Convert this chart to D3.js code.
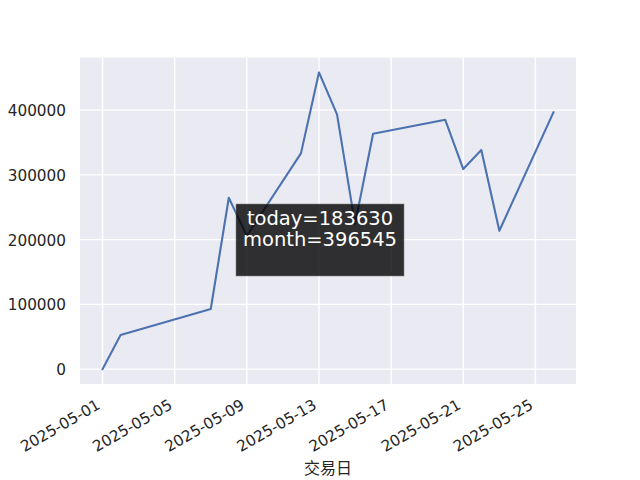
<!DOCTYPE html>
<html>
<head>
<meta charset="utf-8">
<script src="https://cdn.jsdelivr.net/npm/d3@7"></script>
<style>
  html, body { margin: 0; padding: 0; background: #ffffff; }
  svg { display: block; }
</style>
</head>
<body>
<svg id="chart" width="640" height="480"></svg>
<script>
// ---- data ----
const dates = ["2025-05-01","2025-05-02","2025-05-07","2025-05-08","2025-05-09","2025-05-12",
               "2025-05-13","2025-05-14","2025-05-15","2025-05-16","2025-05-20","2025-05-21",
               "2025-05-22","2025-05-23","2025-05-26"];
const values = [0, 52800, 92900, 264700, 206000, 333200,
                458200, 393400, 224000, 363400, 385000, 309000,
                338300, 213700, 396545];
const xTickLabels = ["2025-05-01","2025-05-05","2025-05-09","2025-05-13","2025-05-17","2025-05-21","2025-05-25"];
const yTickValues = [0, 100000, 200000, 300000, 400000];
const xAxisLabel = "交易日";
const tooltipLines = ["today=183630", "month=396545"];

(function () {
// ---- layout ----
const W = 640, H = 480;
const mLeft = 80, mRight = 576, mTop = 57.6, mBottom = 384;
const svg = d3.select("#chart");
const parse = d3.utcParse("%Y-%m-%d");
const data = dates.map((d, i) => ({ date: parse(d), value: values[i] }));

// matplotlib-like 5% margins
const xExt = d3.extent(data, d => +d.date);
const xPad = (xExt[1] - xExt[0]) * 0.05;
const yExt = d3.extent(data, d => d.value);
const yPad = (yExt[1] - yExt[0]) * 0.05;

const x = d3.scaleUtc().domain([new Date(xExt[0] - xPad), new Date(xExt[1] + xPad)]).range([mLeft, mRight]);
const y = d3.scaleLinear().domain([yExt[0] - yPad, yExt[1] + yPad]).range([mBottom, mTop]);

// axes background
svg.append("rect").attr("x", mLeft).attr("y", mTop)
  .attr("width", mRight - mLeft).attr("height", mBottom - mTop).attr("fill", "#EAEAF2");

const xTicks = xTickLabels.map(parse);

// grid lines
const grid = svg.append("g").attr("stroke", "#ffffff").attr("stroke-width", 1.4);
grid.selectAll("line.v").data(xTicks).join("line").attr("class", "v")
  .attr("x1", d => x(d)).attr("x2", d => x(d)).attr("y1", mTop).attr("y2", mBottom);
grid.selectAll("line.h").data(yTickValues).join("line").attr("class", "h")
  .attr("y1", d => y(d)).attr("y2", d => y(d)).attr("x1", mLeft).attr("x2", mRight);

const font = "'DejaVu Sans', sans-serif";
const fs = 15.28;

// y axis
const yAxis = svg.append("g").attr("transform", `translate(${mLeft},0)`)
  .call(d3.axisLeft(y).tickValues(yTickValues).tickSize(0).tickPadding(14).tickFormat(d3.format("d")));
yAxis.select(".domain").remove();
yAxis.selectAll("text").attr("font-family", font).attr("font-size", fs).attr("fill", "#262626")
  .attr("dy", "0.36em");

// x axis
const xAxis = svg.append("g").attr("transform", `translate(0,${mBottom})`)
  .call(d3.axisBottom(x).tickValues(xTicks).tickSize(0).tickFormat(d3.utcFormat("%Y-%m-%d")));
xAxis.select(".domain").remove();
xAxis.selectAll("text")
  .attr("font-family", font).attr("font-size", fs).attr("fill", "#262626")
  .attr("text-anchor", "end")
  .attr("x", 0).attr("y", 0).attr("dy", 0)
  .attr("transform", "translate(-1.8,24) rotate(-30)");

// x axis label
svg.append("text").attr("x", (mLeft + mRight) / 2).attr("y", 474)
  .attr("text-anchor", "middle").attr("font-family", "'Noto Sans CJK SC', sans-serif")
  .attr("font-size", 16).attr("fill", "#262626").text(xAxisLabel);

// line
const line = d3.line().x(d => x(d.date)).y(d => y(d.value));
svg.append("path").datum(data).attr("d", line)
  .attr("fill", "none").attr("stroke", "#4C72B0").attr("stroke-width", 2.1)
  .attr("stroke-linejoin", "round").attr("stroke-linecap", "square");

// tooltip annotation, centred in the figure
const cx = W / 2, cy = H / 2;
svg.append("rect").attr("x", cx - 84).attr("y", cy - 36).attr("width", 168).attr("height", 72)
  .attr("fill", "#000000").attr("fill-opacity", 0.8)
  .attr("stroke", "#808080").attr("stroke-opacity", 0.5).attr("stroke-width", 1);
svg.append("g").selectAll("text").data(tooltipLines).join("text")
  .attr("x", cx).attr("y", (d, i) => cy - 15.5 + i * 21)
  .attr("text-anchor", "middle").attr("font-family", font).attr("font-size", 19.5)
  .attr("fill", "#ffffff").text(d => d);
})();
</script>
</body>
</html>
